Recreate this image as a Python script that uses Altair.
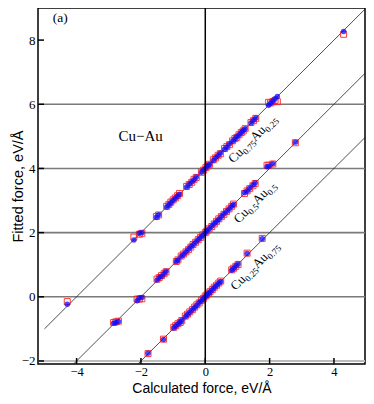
import altair as alt
import pandas as pd

# ---------------- data ----------------
# Cu0.75Au0.25 set (shifted by +4 eV/Å)
x_top = [-4.29, -2.22, -2.05, -1.97, -1.52, -1.45, -1.20, -1.13, -1.07, -1.00, -0.93, -0.86, -0.80,
         -0.58, -0.50, -0.42, -0.35, -0.28, -0.12, -0.05, 0.02, 0.08, 0.13, 0.25, 0.32, 0.40, 0.47,
         0.60, 0.67, 0.75, 0.85, 0.92, 0.98, 1.05, 1.12, 1.18, 1.24, 1.42, 1.50, 1.57,
         1.97, 2.03, 2.10, 2.17, 2.24, 4.30]
sq_top = [-0.15, 1.86, 1.95, 1.98, 2.50, 2.55, 2.82, 2.88, 2.95, 3.02, 3.08, 3.15, 3.22,
          3.44, 3.50, 3.57, 3.66, 3.72, 3.88, 3.95, 4.03, 4.08, 4.13, 4.27, 4.33, 4.41, 4.46,
          4.62, 4.68, 4.74, 4.86, 4.93, 4.97, 5.05, 5.12, 5.17, 5.24, 5.43, 5.49, 5.56,
          6.06, 6.04, 6.08, 6.12, 6.08, 8.18]
circ_top = [-0.23, 1.77, 1.98, 2.00, 2.48, 2.56, 2.80, 2.87, 2.93, 3.01, 3.07, 3.14, 3.20,
            3.42, 3.51, 3.58, 3.65, 3.73, 3.88, 3.96, 4.02, 4.09, 4.12, 4.25, 4.33, 4.40, 4.48,
            4.60, 4.67, 4.76, 4.85, 4.92, 4.99, 5.05, 5.12, 5.18, 5.24, 5.42, 5.50, 5.57,
            5.97, 6.03, 6.10, 6.17, 6.24, 8.27]

# Cu0.5Au0.5 set (shifted by +2 eV/Å)
x_mid = [-2.85, -2.78, -2.70, -2.12, -2.05, -1.97, -1.50, -1.43, -1.36, -1.28, -1.22, -0.90, -0.85,
         -0.75, -0.68, -0.60, -0.52, -0.45, -0.38, -0.30, -0.22, -0.15, -0.08, 0.00, 0.05, 0.12,
         0.20, 0.28, 0.35, 0.42, 0.50, 0.58, 0.66, 0.74, 0.82, 0.88, 1.22, 1.30, 1.38, 1.48, 1.55,
         1.92, 1.98, 2.10, 2.80]
sq_mid = [-0.80, -0.78, -0.76, -0.07, -0.07, -0.06, 0.55, 0.60, 0.66, 0.72, 0.78, 1.10, 1.15,
          1.27, 1.33, 1.40, 1.47, 1.55, 1.63, 1.70, 1.78, 1.85, 1.93, 2.00, 2.05, 2.12,
          2.19, 2.27, 2.35, 2.43, 2.50, 2.57, 2.66, 2.74, 2.82, 2.89, 3.22, 3.30, 3.37, 3.46, 3.53,
          4.10, 4.10, 4.14, 4.80]
circ_mid = [-0.82, -0.80, -0.77, -0.12, -0.04, -0.02, 0.52, 0.60, 0.64, 0.72, 0.80, 1.10, 1.15,
            1.26, 1.32, 1.40, 1.48, 1.56, 1.62, 1.70, 1.78, 1.85, 1.92, 2.00, 2.06, 2.12,
            2.20, 2.28, 2.35, 2.42, 2.50, 2.58, 2.66, 2.74, 2.82, 2.88, 3.24, 3.30, 3.38, 3.48, 3.55,
            4.05, 4.08, 4.15, 4.82]

# Cu0.25Au0.75 set (no shift)
x_bot = [-1.78, -1.30, -0.98, -0.92, -0.85, -0.78, -0.73, -0.62, -0.55, -0.48, -0.40, -0.33,
         -0.26, -0.19, -0.12, -0.06, 0.00, 0.05, 0.10, 0.15, 0.22, 0.28, 0.35, 0.42, 0.48,
         0.82, 0.88, 0.95, 1.02, 1.30, 1.77]
sq_bot = [-1.77, -1.32, -0.95, -0.90, -0.84, -0.80, -0.74, -0.60, -0.54, -0.47, -0.40, -0.32,
          -0.25, -0.19, -0.11, -0.05, 0.02, 0.06, 0.11, 0.16, 0.23, 0.30, 0.36, 0.43, 0.49,
          0.84, 0.89, 0.95, 1.01, 1.36, 1.82]
circ_bot = [-1.76, -1.33, -0.97, -0.91, -0.85, -0.79, -0.73, -0.62, -0.55, -0.48, -0.40, -0.33,
            -0.26, -0.18, -0.12, -0.06, 0.00, 0.05, 0.10, 0.15, 0.22, 0.29, 0.35, 0.42, 0.48,
            0.83, 0.88, 0.96, 1.02, 1.35, 1.81]

# reference lines (ideal fit, shifted by 4, 2, 0)
line_grp = ["a", "a", "b", "b", "c", "c"]
line_x = [-5, 5, -5, 5, -5, 5]
line_y = [-1, 9, -3, 7, -5, 5]

grid_y_dark = [0, 2, 4, 6]
grid_y_light = [-2]
x_ticks = [-4, -2, 0, 2, 4]
y_ticks = [-2, 0, 2, 4, 6, 8]

sub_labels = [("Cu", "0.75", "Au", "0.25"), ("Cu", "0.5", "Au", "0.5"), ("Cu", "0.25", "Au", "0.75")]
sub_label_x = [1.47, 1.54, 1.54]
sub_label_y = [4.92, 2.95, 0.96]

# ---------------- chart ----------------
W, H = 327, 356
XDOM = [-5.2, 4.965]
YDOM = [-2.094, 9.0]
SERIF = "Liberation Serif"
SANS = "Liberation Sans"

xs = alt.Scale(domain=XDOM, nice=False, zero=False)
ys = alt.Scale(domain=YDOM, nice=False, zero=False)
xaxis = alt.Axis(values=x_ticks, format="d", title="Calculated force, eV/Å",
                 labelFont=SERIF, labelFontSize=12.5, labelPadding=1,
                 titleFontSize=14, titleY=31, titleBaseline="bottom")
yaxis = alt.Axis(values=y_ticks, format="d", title="Fitted force, eV/Å",
                 labelFont=SERIF, labelFontSize=13, labelPadding=3,
                 titleFontSize=14.5, titleX=-13)


def X(f):
    return alt.X(f, scale=xs, axis=xaxis)


def Y(f):
    return alt.Y(f, scale=ys, axis=yaxis)


pts = pd.DataFrame({
    "calc": x_top + x_mid + x_bot,
    "sq": sq_top + sq_mid + sq_bot,
    "circ": circ_top + circ_mid + circ_bot,
})

grid_dark = alt.Chart(pd.DataFrame({"y": grid_y_dark})).mark_rule(
    color="#7a7a7a", strokeWidth=1.6).encode(y=Y("y:Q"))
grid_light = alt.Chart(pd.DataFrame({"y": grid_y_light})).mark_rule(
    color="#bdbdbd", strokeWidth=2).encode(y=Y("y:Q"))

vline = alt.Chart(pd.DataFrame({"x": [0]})).mark_rule(
    color="black", strokeWidth=1.5).encode(x=X("x:Q"))

diag = alt.Chart(pd.DataFrame({"g": line_grp, "x": line_x, "y": line_y})).mark_line(
    color="#222222", strokeWidth=0.8, clip=True).encode(
    x=X("x:Q"), y=Y("y:Q"), detail="g:N")

squares = alt.Chart(pts).mark_point(
    shape="square", filled=False, color="#ff1a1a", strokeWidth=1, size=36, opacity=0.85).encode(
    x=X("calc:Q"), y=Y("sq:Q"))

circles = alt.Chart(pts).mark_circle(color="#0a0aff", opacity=0.75, size=30).encode(
    x=X("calc:Q"), y=Y("circ:Q"))

xt = alt.Chart(pd.DataFrame({"x": x_ticks})).mark_rule(color="black", strokeWidth=1.5).encode(
    x=X("x:Q"), y=alt.value(H), y2=alt.value(H - 6))
yt = alt.Chart(pd.DataFrame({"y": y_ticks})).mark_rule(color="black", strokeWidth=1.5).encode(
    y=Y("y:Q"), x=alt.value(0), x2=alt.value(6))

panel = alt.Chart(pd.DataFrame({"x": [-4.51], "y": [8.69], "t": ["(a)"]})).mark_text(
    font=SERIF, fontSize=13.5, color="black").encode(x=X("x:Q"), y=Y("y:Q"), text="t:N")
cuau = alt.Chart(pd.DataFrame({"x": [-2.01], "y": [5.01], "t": ["Cu−Au"]})).mark_text(
    font=SERIF, fontSize=15, color="black").encode(x=X("x:Q"), y=Y("y:Q"), text="t:N")

# rotated labels with subscripts built from pieces
metric = {"C": 0.667, "u": 0.5, "A": 0.722, ".": 0.25}
BIG, SMALL = 13, 9


def w(s, size):
    return sum(metric.get(c, 0.5) for c in s) * size


label_layers = []
for pieces, lx, ly in zip(sub_labels, sub_label_x, sub_label_y):
    sizes = [BIG, SMALL, BIG, SMALL]
    total = sum(w(p, s) for p, s in zip(pieces, sizes))
    cur = -total / 2
    src = pd.DataFrame({"x": [lx], "y": [ly]})
    for p, s in zip(pieces, sizes):
        label_layers.append(
            alt.Chart(src).mark_text(
                text=p, font=SERIF, fontSize=s, color="black", angle=315,
                align="left", baseline="alphabetic", dx=cur, dy=4 if s == BIG else 7).encode(
                x=X("x:Q"), y=Y("y:Q")))
        cur += w(p, s)

chart = alt.layer(
    grid_light, grid_dark, diag, squares, circles, vline, xt, yt, panel, cuau, *label_layers
).properties(
    width=W, height=H,
    autosize=alt.AutoSizeParams(type="none"),
    padding={"left": 30, "top": 0, "right": 1, "bottom": 31},
).configure_view(
    stroke="black", strokeWidth=1.5
).configure_axis(
    domain=False, ticks=False, grid=False,
    labelFont=SERIF, labelColor="black",
    titleFont=SANS, titleFontWeight="normal", titleColor="black",
)

chart.save("out.html", embed_options={"renderer": "svg", "actions": False})
